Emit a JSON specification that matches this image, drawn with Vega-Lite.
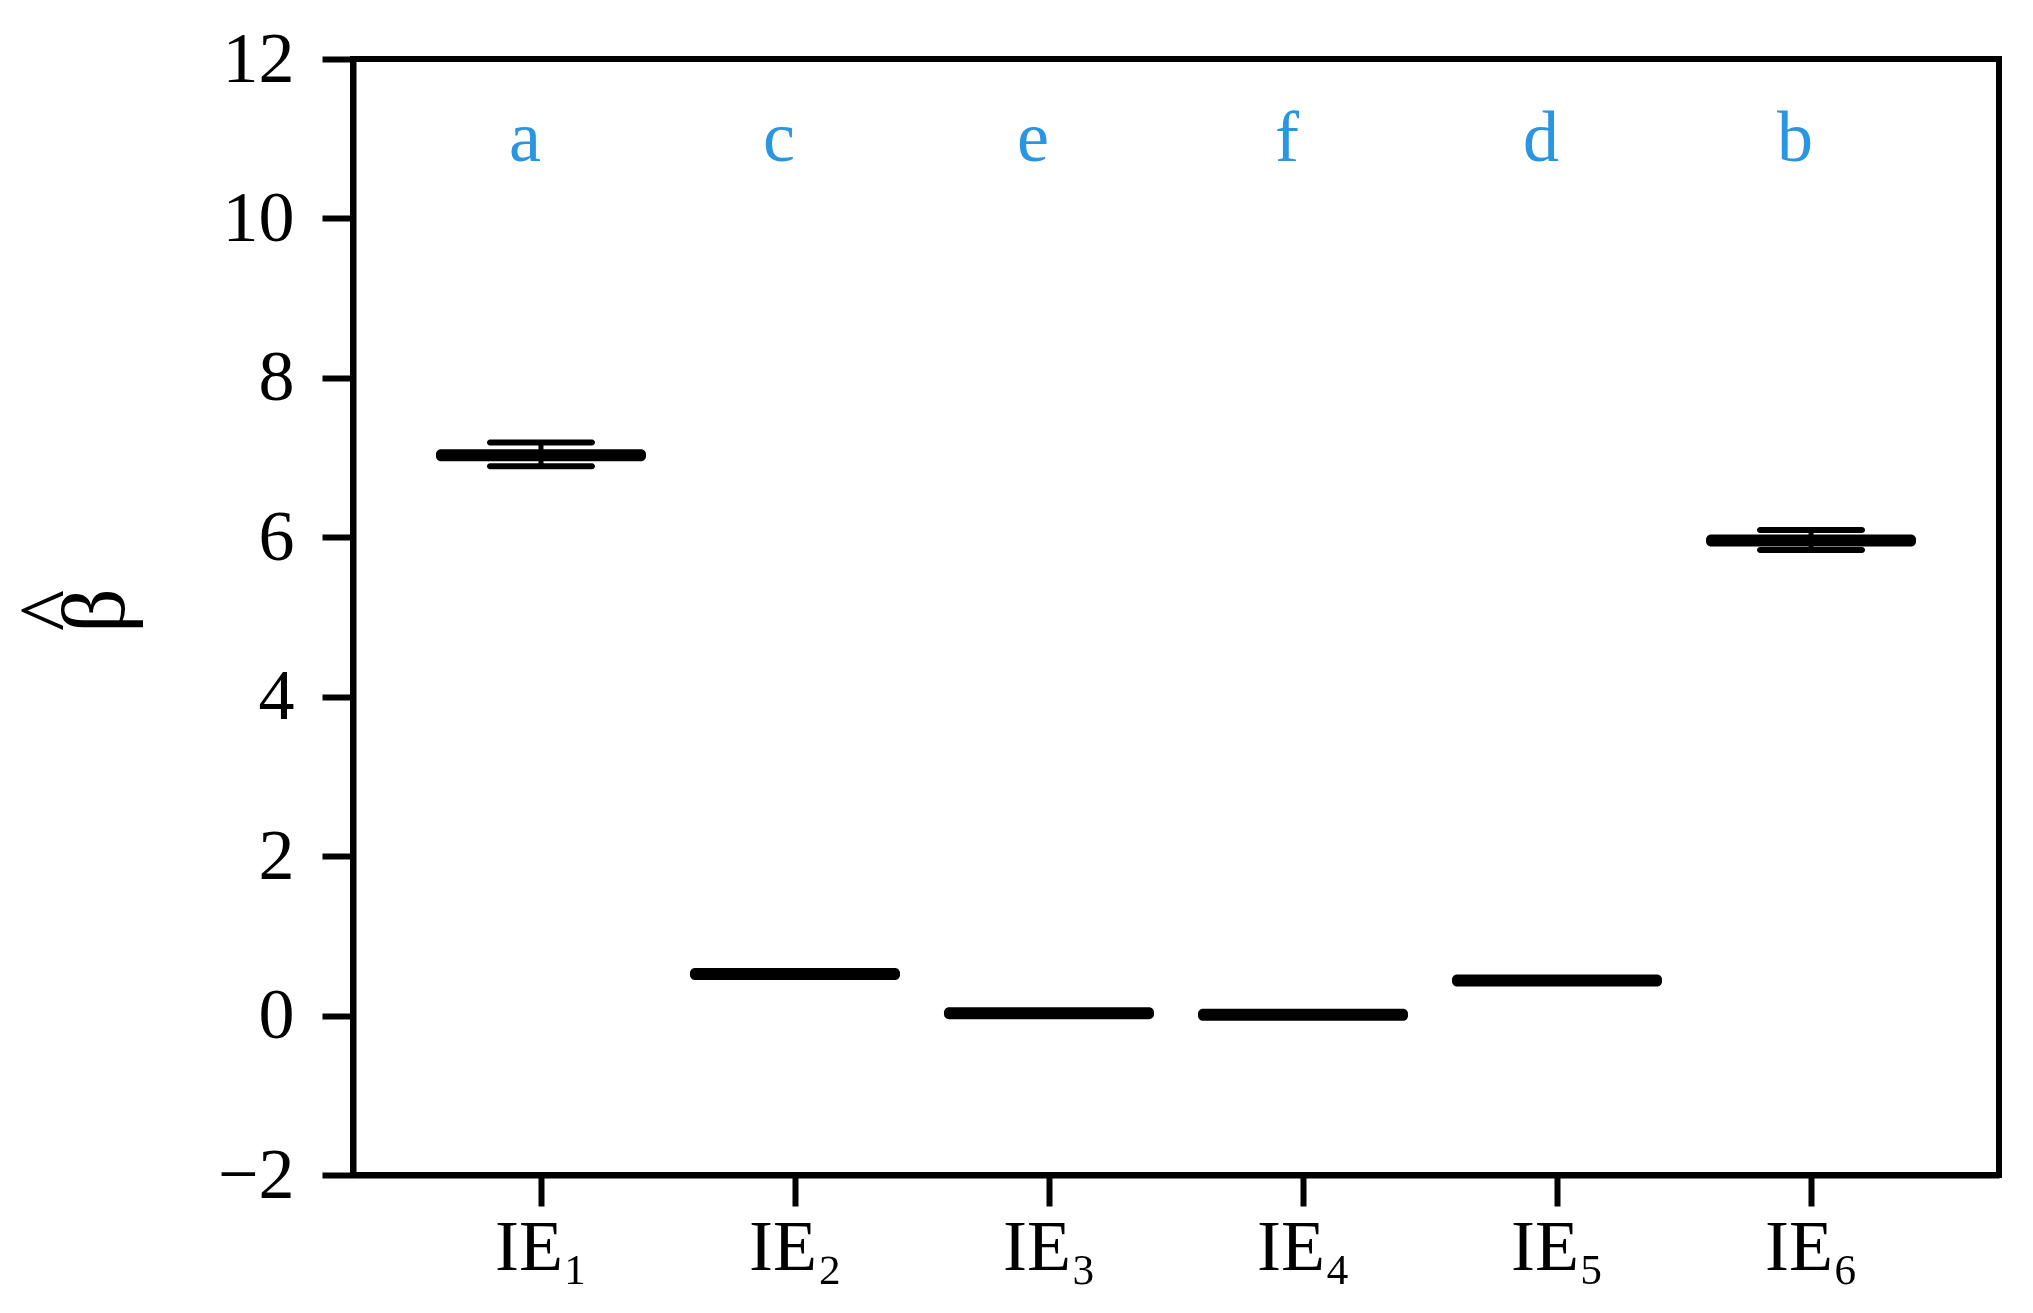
{
  "$schema": "https://vega.github.io/schema/vega-lite/v6.json",
  "width": 1646,
  "height": 1116,
  "autosize": "none",
  "padding": {"left": 353, "top": 59, "right": 34, "bottom": 138},
  "background": "white",
  "config": {
    "view": {"stroke": "black", "strokeWidth": 6},
    "font": "Liberation Serif",
    "axis": {
      "domainColor": "black",
      "domainWidth": 6,
      "tickColor": "black",
      "tickWidth": 6,
      "tickSize": 31,
      "labelFont": "Liberation Serif",
      "labelFontSize": 72,
      "labelColor": "black",
      "grid": false,
      "titleFont": "Liberation Serif",
      "titleFontWeight": "normal",
      "titleColor": "black"
    }
  },
  "data": {
    "values": [
      {"cat": "IE₁", "mean": 7.03, "lo": 6.89, "hi": 7.19, "letter": "a"},
      {"cat": "IE₂", "mean": 0.52, "lo": null, "hi": null, "letter": "c"},
      {"cat": "IE₃", "mean": 0.03, "lo": null, "hi": null, "letter": "e"},
      {"cat": "IE₄", "mean": 0.01, "lo": null, "hi": null, "letter": "f"},
      {"cat": "IE₅", "mean": 0.44, "lo": null, "hi": null, "letter": "d"},
      {"cat": "IE₆", "mean": 5.96, "lo": 5.84, "hi": 6.09, "letter": "b"}
    ]
  },
  "encoding": {
    "x": {
      "field": "cat",
      "type": "nominal",
      "sort": ["IE₁", "IE₂", "IE₃", "IE₄", "IE₅", "IE₆"],
      "scale": {"type": "point", "padding": 0.74, "domain": ["IE₁", "IE₂", "IE₃", "IE₄", "IE₅", "IE₆"]},
      "axis": {"title": null, "labelAngle": 0, "labelPadding": 6}
    }
  },
  "layer": [
    {
      "mark": {"type": "rule", "color": "black", "strokeWidth": 5, "opacity": 1},
      "encoding": {
        "y": {"field": "lo", "type": "quantitative"},
        "y2": {"field": "hi"}
      }
    },
    {
      "mark": {"type": "tick", "color": "black", "opacity": 1, "size": 108, "thickness": 6, "cornerRadius": 3, "orient": "horizontal"},
      "encoding": {"y": {"field": "lo", "type": "quantitative"}}
    },
    {
      "mark": {"type": "tick", "color": "black", "opacity": 1, "size": 108, "thickness": 6, "cornerRadius": 3, "orient": "horizontal"},
      "encoding": {"y": {"field": "hi", "type": "quantitative"}}
    },
    {
      "mark": {"type": "tick", "color": "black", "opacity": 1, "size": 210, "thickness": 12, "cornerRadius": 5, "orient": "horizontal"},
      "encoding": {
        "y": {
          "field": "mean",
          "type": "quantitative",
          "scale": {"domain": [-2, 12], "nice": false, "zero": false},
          "axis": {
            "values": [-2, 0, 2, 4, 6, 8, 10, 12],
            "format": "d",
            "title": ["^", "β"],
            "titleFontSize": 88,
            "titleLineHeight": 44,
            "titleAngle": -90,
            "titleX": -300,
            "titleY": 551,
            "titleAlign": "center",
            "titleBaseline": "middle",
            "labelPadding": 28
          }
        }
      }
    },
    {
      "mark": {"type": "text", "color": "#2A95E0", "fontSize": 72, "font": "Liberation Serif", "baseline": "middle", "align": "center", "dx": -16},
      "encoding": {
        "y": {"datum": 11.0, "type": "quantitative"},
        "text": {"field": "letter"}
      }
    }
  ]
}
